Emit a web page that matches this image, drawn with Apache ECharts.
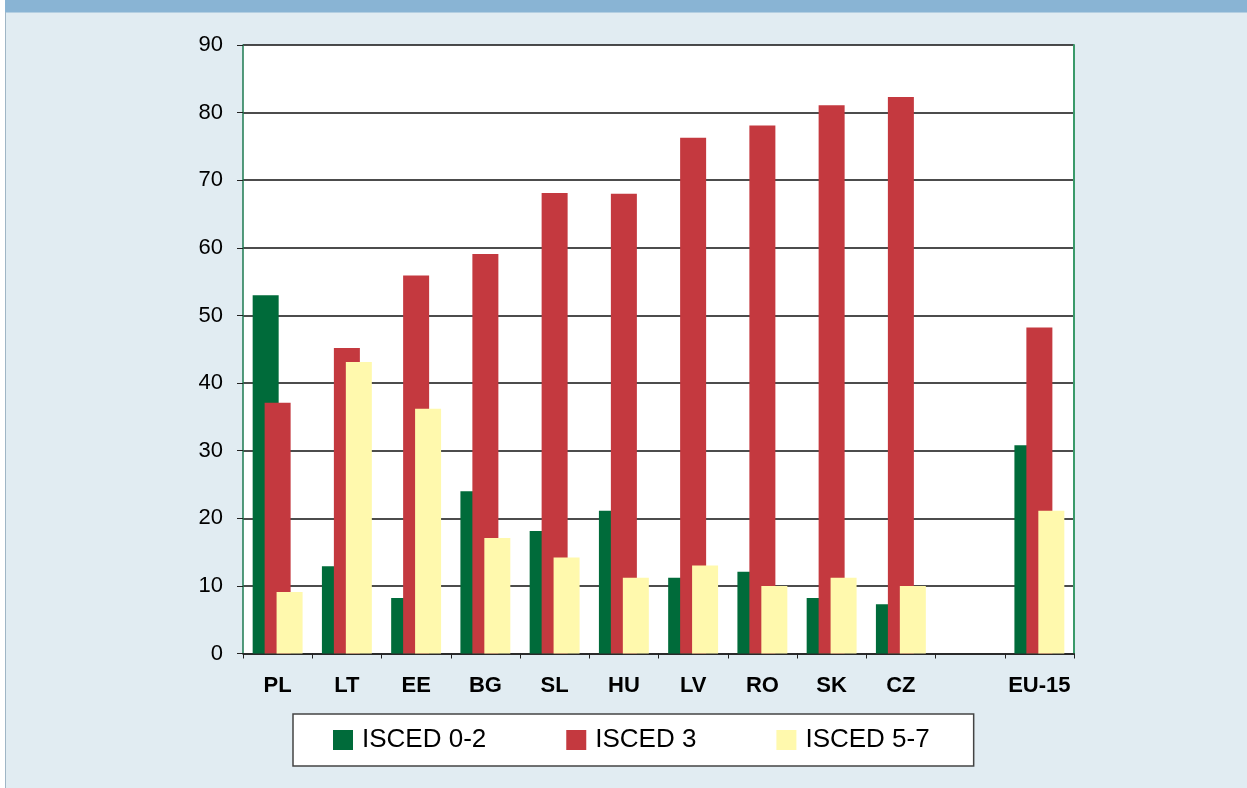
<!DOCTYPE html>
<html>
<head>
<meta charset="utf-8">
<script src="https://cdn.jsdelivr.net/npm/echarts@6/dist/echarts.min.js"></script>
<style>
html, body { margin: 0; padding: 0; background: #e1ecf2; }
#main { width: 1247px; height: 788px; }
</style>
</head>
<body>
<div id="main"></div>
<script>
// categories along the x axis (one empty slot before EU-15)
var countries = ["PL", "LT", "EE", "BG", "SL", "HU", "LV", "RO", "SK", "CZ", "", "EU-15"];

// shares per education level, %
var isced02 = [53, 12.9, 8.2, 24, 18.1, 21.1, 11.2, 12.1, 8.2, 7.3, null, 30.8];
var isced3 = [37.1, 45.2, 55.9, 59.1, 68.1, 68, 76.3, 78.1, 81.1, 82.3, null, 48.2];
var isced57 = [9.1, 43.1, 36.2, 17.1, 14.2, 11.2, 13, 10, 11.2, 10, null, 21.1];

var seriesNames = ["ISCED 0-2", "ISCED 3", "ISCED 5-7"];
var colors = ["#006b3a", "#c4393f", "#fff9ad"];

var myChart = echarts.init(document.getElementById("main"));

function barSeries(name, data, color) {
  return {
    name: name,
    type: "bar",
    data: data,
    barWidth: 26,
    barGap: "-54%",
    itemStyle: { color: color }
  };
}

var option = {
  backgroundColor: "#e1ecf2",
  animation: false,
  textStyle: { fontFamily: "Liberation Sans, Arial, sans-serif" },
  graphic: [
    // header band cut by the top edge
    { type: "rect", left: 0, top: 0, shape: { width: 1247, height: 12 }, style: { fill: "#89b4d4" } },
    { type: "rect", left: 0, top: 12, shape: { width: 1247, height: 1 }, style: { fill: "#b4cfe2" } },
    { type: "rect", left: 0, top: 0, shape: { width: 5, height: 788 }, style: { fill: "#ffffff" } },
    { type: "rect", left: 5, top: 12, shape: { width: 1, height: 776 }, style: { fill: "#9fb6c6" } }
  ],
  color: colors,
  grid: {
    left: 243,
    right: 173,
    top: 45,
    bottom: 134.5,
    show: true,
    backgroundColor: "#ffffff",
    borderWidth: 0
  },
  legend: {
    data: seriesNames,
    left: 293,
    top: 714,
    padding: [13, 44, 13, 40],
    itemGap: 80,
    itemWidth: 20,
    itemHeight: 20,
    icon: "rect",
    backgroundColor: "#ffffff",
    borderColor: "#444444",
    borderWidth: 1.5,
    textStyle: { fontSize: 26, color: "#000", padding: [0, 0, 0, 4] }
  },
  xAxis: {
    type: "category",
    data: countries,
    axisLine: { lineStyle: { color: "#222", width: 1.5 } },
    axisTick: { show: true, length: 5, lineStyle: { color: "#222" } },
    axisLabel: { color: "#000", fontSize: 22, fontWeight: "bold", margin: 21, interval: 0 }
  },
  yAxis: [
    {
      type: "value",
      min: 0,
      max: 90,
      interval: 10,
      axisLine: { show: true, lineStyle: { color: "#1d7a50", width: 1.5 } },
      axisTick: { show: true, length: 6, lineStyle: { color: "#222" } },
      axisLabel: { color: "#000", fontSize: 22, margin: 20 },
      splitLine: { lineStyle: { color: "#111", width: 1.5 } }
    },
    {
      type: "value",
      min: 0,
      max: 90,
      interval: 10,
      position: "right",
      axisLine: { show: true, lineStyle: { color: "#3a9a6a", width: 2 } },
      axisTick: { show: false },
      axisLabel: { show: false },
      splitLine: { show: false }
    }
  ],
  series: [
    barSeries(seriesNames[0], isced02, colors[0]),
    barSeries(seriesNames[1], isced3, colors[1]),
    barSeries(seriesNames[2], isced57, colors[2])
  ]
};

myChart.setOption(option);
</script>
</body>
</html>
